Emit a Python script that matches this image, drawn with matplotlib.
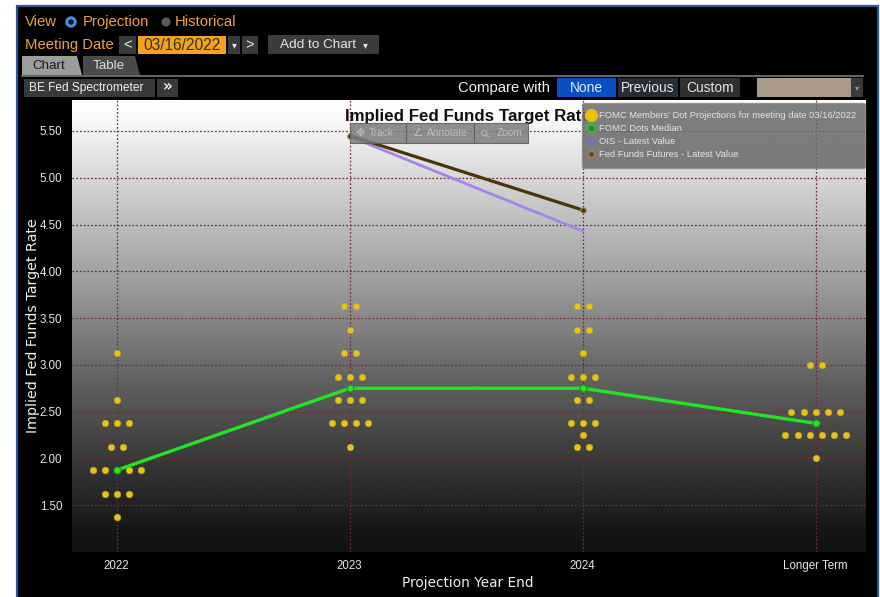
import numpy as np
import matplotlib
matplotlib.use("Agg")
import matplotlib.pyplot as plt
from matplotlib import font_manager
from matplotlib.patches import Rectangle, Polygon, Circle
from matplotlib.lines import Line2D

# ---------------- data ----------------
categories = ["2022", "2023", "2024", "Longer Term"]
dots_2022 = [3.125, 2.625, 2.375, 2.375, 2.375, 2.125, 2.125,
             1.875, 1.875, 1.875, 1.875, 1.875, 1.625, 1.625, 1.625, 1.375]
dots_2023 = [3.625, 3.625, 3.375, 3.125, 3.125, 2.875, 2.875, 2.875,
             2.625, 2.625, 2.625, 2.375, 2.375, 2.375, 2.375, 2.125]
dots_2024 = [3.625, 3.625, 3.375, 3.375, 3.125, 2.875, 2.875, 2.875,
             2.625, 2.625, 2.375, 2.375, 2.375, 2.25, 2.125, 2.125]
dots_longer = [3.0, 3.0, 2.5, 2.5, 2.5, 2.5, 2.5,
               2.25, 2.25, 2.25, 2.25, 2.25, 2.25, 2.0]
median_values = [1.875, 2.75, 2.75, 2.375]
ois_categories = ["2023", "2024"]
ois_values = [5.44, 4.43]
fff_categories = ["2023", "2024"]
fff_values = [5.45, 4.655]
y_ticks = [1.0, 1.5, 2.0, 2.5, 3.0, 3.5, 4.0, 4.5, 5.0, 5.5]
y_tick_labels = ["", "1.50", "2.00", "2.50", "3.00", "3.50", "4.00", "4.50", "5.00", "5.50"]
legend_labels = ["FOMC Members' Dot Projections for meeting date 03/16/2022",
                 "FOMC Dots Median", "OIS - Latest Value",
                 "Fed Funds Futures - Latest Value"]

# ---------------- fonts ----------------
names = {f.name for f in font_manager.fontManager.ttflist}
if "Liberation Sans Narrow" in names:
    UI, S, LS = "Liberation Sans Narrow", 1.0, 1.0
else:
    UI, S, LS = "Liberation Sans", 0.86, 0.84
UIF = [UI, "DejaVu Sans"]
REG = ["Liberation Sans", "DejaVu Sans"]

W, H = 880, 597
fig = plt.figure(figsize=(W / 100, H / 100), dpi=100)
fig.patch.set_facecolor("white")

# ---------------- background UI (pixel coords) ----------------
bg = fig.add_axes([0, 0, 1, 1], zorder=0)
bg.set_xlim(0, W)
bg.set_ylim(H, 0)
bg.set_axis_off()

def box(x0, y0, x1, y1, fc, ec="none", lw=0, z=1, **kw):
    bg.add_patch(Rectangle((x0, y0), x1 - x0, y1 - y0, fc=fc, ec=ec, lw=lw, zorder=z, **kw))

def label(x, y, s, size, color, ha="left", fam=None, scale=True, **kw):
    bg.text(x, y, s, fontsize=size * (S if scale else 1), color=color, ha=ha, va="center",
            family=fam or UIF, zorder=5, **kw)

box(16.5, 6, 877.5, 620, "black", ec="#2b5797", lw=1.6, z=0)

orange = "#f0a040"
label(25, 22, "View", 12.5, orange)
bg.add_patch(Circle((71, 22), 4.2, fc="#0a0a0a", ec="#3d8fe6", lw=2.2, zorder=3))
label(83, 22, "Projection", 12.5, orange)
bg.add_patch(Circle((166, 22), 4.5, fc="#5a5a5a", ec="none", zorder=3))
label(175, 22, "Historical", 12.5, orange)

label(25, 45, "Meeting Date", 12.5, orange)
box(119, 36, 136, 54, "#3a3a3a")
label(127.5, 45, "<", 12, "#f0f0f0", ha="center")
box(138, 36, 226, 54, "#f5a21d")
label(182, 45, "03/16/2022", 13, "#303030", ha="center")
box(228, 36, 240, 54, "#3a3a3a")
label(234, 45, "▾", 7, "#e0e0e0", ha="center", fam=["DejaVu Sans"], scale=False)
box(242, 36, 258, 54, "#3a3a3a")
label(250, 45, ">", 12, "#f0f0f0", ha="center")
box(268, 35, 379, 54, "#3c3c3c")
label(318, 45, "Add to Chart", 11.3, "#e6e6e6", ha="center")
label(365, 45, "▾", 7, "#e0e0e0", ha="center", fam=["DejaVu Sans"], scale=False)

bg.add_patch(Polygon([(22, 75), (22, 56), (77, 56), (82, 75)], closed=True, fc="#9c9c9c", ec="none", zorder=2))
label(49, 66, "Chart", 11.2, "#1a1a1a", ha="center")
bg.add_patch(Polygon([(83, 75), (83, 56), (135, 56), (140, 75)], closed=True, fc="#4a4a4a", ec="none", zorder=2))
label(109, 66, "Table", 11.2, "#dcdcdc", ha="center")
bg.plot([22, 863], [76, 76], color="#7a7a7a", lw=1.2, zorder=2)

box(24, 79, 155, 97, "#3a3a3a")
label(29, 88, "BE Fed Spectrometer", 10, "#f0f0f0")
box(157, 79, 178, 97, "#3a3a3a")
label(167.5, 87, "»", 11, "#f0f0f0", ha="center", fam=["DejaVu Sans"], weight="bold", scale=False)
label(458, 88, "Compare with", 12.5, "#f0f0f0")
box(557, 78, 616, 97, "#0b4fc4")
label(586.5, 88, "None", 11.5, "#e6ecff", ha="center")
box(618, 78, 678, 97, "#262c38")
label(648, 88, "Previous", 11.5, "#e6e6e6", ha="center")
box(680, 78, 740, 97, "#303030")
label(710, 88, "Custom", 11.5, "#e6e6e6", ha="center")
box(757, 78, 851, 97, "#a99a89")
box(851, 78, 863, 97, "#3a3a3a")
label(857, 88, "▾", 6, "#999999", ha="center", fam=["DejaVu Sans"], scale=False)

# ---------------- main chart ----------------
ax = fig.add_axes([72 / W, 1 - 552 / H, (866 - 72) / W, (552 - 100) / H], zorder=2)
ax.set_facecolor("none")
for sp in ax.spines.values():
    sp.set_visible(False)

# gradient background (styling)
gpos = [0.0, 0.05, 0.22, 0.42, 0.62, 0.80, 0.95, 1.0]
gval = [1.0, 0.97, 0.79, 0.60, 0.38, 0.22, 0.09, 0.07]
grad = np.interp(np.linspace(0, 1, 400), gpos, gval)[:, None]
ax.imshow(grad, extent=[0, 1, 0, 1], transform=ax.transAxes, aspect="auto",
          cmap="gray", vmin=0, vmax=1, zorder=0, interpolation="bilinear")

xpos = np.arange(len(categories))
grid_c = "#74283a"
for yv in y_ticks:
    ax.axhline(yv, color=grid_c, lw=0.9, ls=(0, (1.4, 1.6)), zorder=1)
for xv in xpos:
    ax.axvline(xv, color=grid_c, lw=0.9, ls=(0, (1.4, 1.6)), zorder=1)

# dot plot: spread equal values horizontally around the category
spacing = 0.052
all_dots = [dots_2022, dots_2023, dots_2024, dots_longer]
dx, dy = [], []
for i, vals in enumerate(all_dots):
    uniq, counts = np.unique(vals, return_counts=True)
    for v, n in zip(uniq, counts):
        offs = (np.arange(n) - (n - 1) / 2) * spacing
        dx.extend(xpos[i] + offs)
        dy.extend([v] * n)
ax.scatter(dx, dy, s=22, c="#e6c41c", edgecolors="#c4a312", linewidths=0.5, zorder=3)

ax.plot(xpos, median_values, color="#22e422", lw=2.4, zorder=4, marker="o", ms=5,
        mfc="#2fe02f", mec="#149914", mew=0.8)
ois_x = [categories.index(c) for c in ois_categories]
fff_x = [categories.index(c) for c in fff_categories]
ax.plot(ois_x, ois_values, color="#a386ea", lw=2.0, zorder=4)
ax.plot(fff_x, fff_values, color="#4b3408", lw=2.3, zorder=5, marker="o", ms=4,
        mfc="#4b3408", mec="#a89060", mew=0.8)

ax.set_xlim(-0.192, 3.216)
ax.set_ylim(1.0, 5.831)
ax.set_xticks(xpos, categories)
ax.set_yticks(y_ticks, y_tick_labels)
ax.tick_params(length=0, labelcolor="#e8e8e8", labelsize=8.3)
ax.tick_params(axis="y", pad=7)
ax.tick_params(axis="x", pad=6)
for t in ax.get_xticklabels() + ax.get_yticklabels():
    t.set_family(REG)
ax.set_ylabel("Implied Fed Funds Target Rate", color="#f0f0f0", fontsize=10.3, family=["DejaVu Sans"])
ax.yaxis.set_label_coords(-0.040, 0.5)
ax.set_xlabel("Projection Year End", color="#f0f0f0", fontsize=9.8, family=["DejaVu Sans"])
ax.xaxis.set_label_coords(0.499, -0.054)

# ---------------- overlay: title + toolbar ----------------
ov = fig.add_axes([0, 0, 1, 1], zorder=10)
ov.set_xlim(0, W)
ov.set_ylim(H, 0)
ov.set_axis_off()
title = ov.text(345, 121, "Implied Fed Funds Target Rate", fontsize=12.2, weight="bold",
                color="#101010", ha="left", va="baseline", family=REG, zorder=2)
title.set_clip_path(Rectangle((0, 0), 581, H, transform=ov.transData))

ov.add_patch(Rectangle((350, 123), 178, 20, fc="#7c7c7c", ec="#5c5c5c", lw=0.8, alpha=0.85, zorder=3))
for sx in (406, 474):
    ov.plot([sx, sx], [124, 142], color="#5c5c5c", lw=0.8, zorder=4)
tool_c = "#bdbdbd"
ov.text(360, 133, "✥", fontsize=8, color=tool_c, ha="center", va="center", family=["DejaVu Sans"], zorder=4)
ov.text(369, 133, "Track", fontsize=8.5 * S, color=tool_c, ha="left", va="center", family=UIF, zorder=4)
ov.text(417, 133, "∠", fontsize=8, color=tool_c, ha="center", va="center", family=["DejaVu Sans"], zorder=4)
ov.text(427, 133, "Annotate", fontsize=8.5 * S, color=tool_c, ha="left", va="center", family=UIF, zorder=4)
ov.text(486, 133, "⚲", fontsize=8, color=tool_c, ha="center", va="center", family=["DejaVu Sans"], zorder=4, rotation=45)
ov.text(497, 133, "Zoom", fontsize=8.5 * S, color=tool_c, ha="left", va="center", family=UIF, zorder=4)

# ---------------- legend ----------------
handles = [
    Line2D([], [], ls="none", marker="o", ms=8.5, mfc="#e8c000", mec="#e8c000"),
    Line2D([], [], ls="none", marker="o", ms=5.5, mfc="#3d7a3d", mec="#22cc22", mew=1.4),
    Line2D([], [], ls="none", marker="o", ms=4.5, mfc="#7f6fb0", mec="#7f6fb0"),
    Line2D([], [], ls="none", marker="o", ms=4.5, mfc="#5a4a30", mec="#b08040", mew=1.0),
]
leg = fig.legend(handles, legend_labels, loc="upper left",
                 bbox_to_anchor=(582 / W, 1 - 103 / H), bbox_transform=fig.transFigure,
                 borderaxespad=0, borderpad=0.9, handlelength=0.2, handletextpad=0.75,
                 labelspacing=0.42, fancybox=True, framealpha=0.86,
                 facecolor="#6a6a6a", edgecolor="#8c8c8c",
                 prop={"family": UIF, "size": 8 * LS}, labelcolor="#e4e4e4")
leg.set_zorder(20)
leg.get_frame().set_linewidth(1.0)

fig.savefig("out.png", dpi=100, facecolor=fig.get_facecolor())
